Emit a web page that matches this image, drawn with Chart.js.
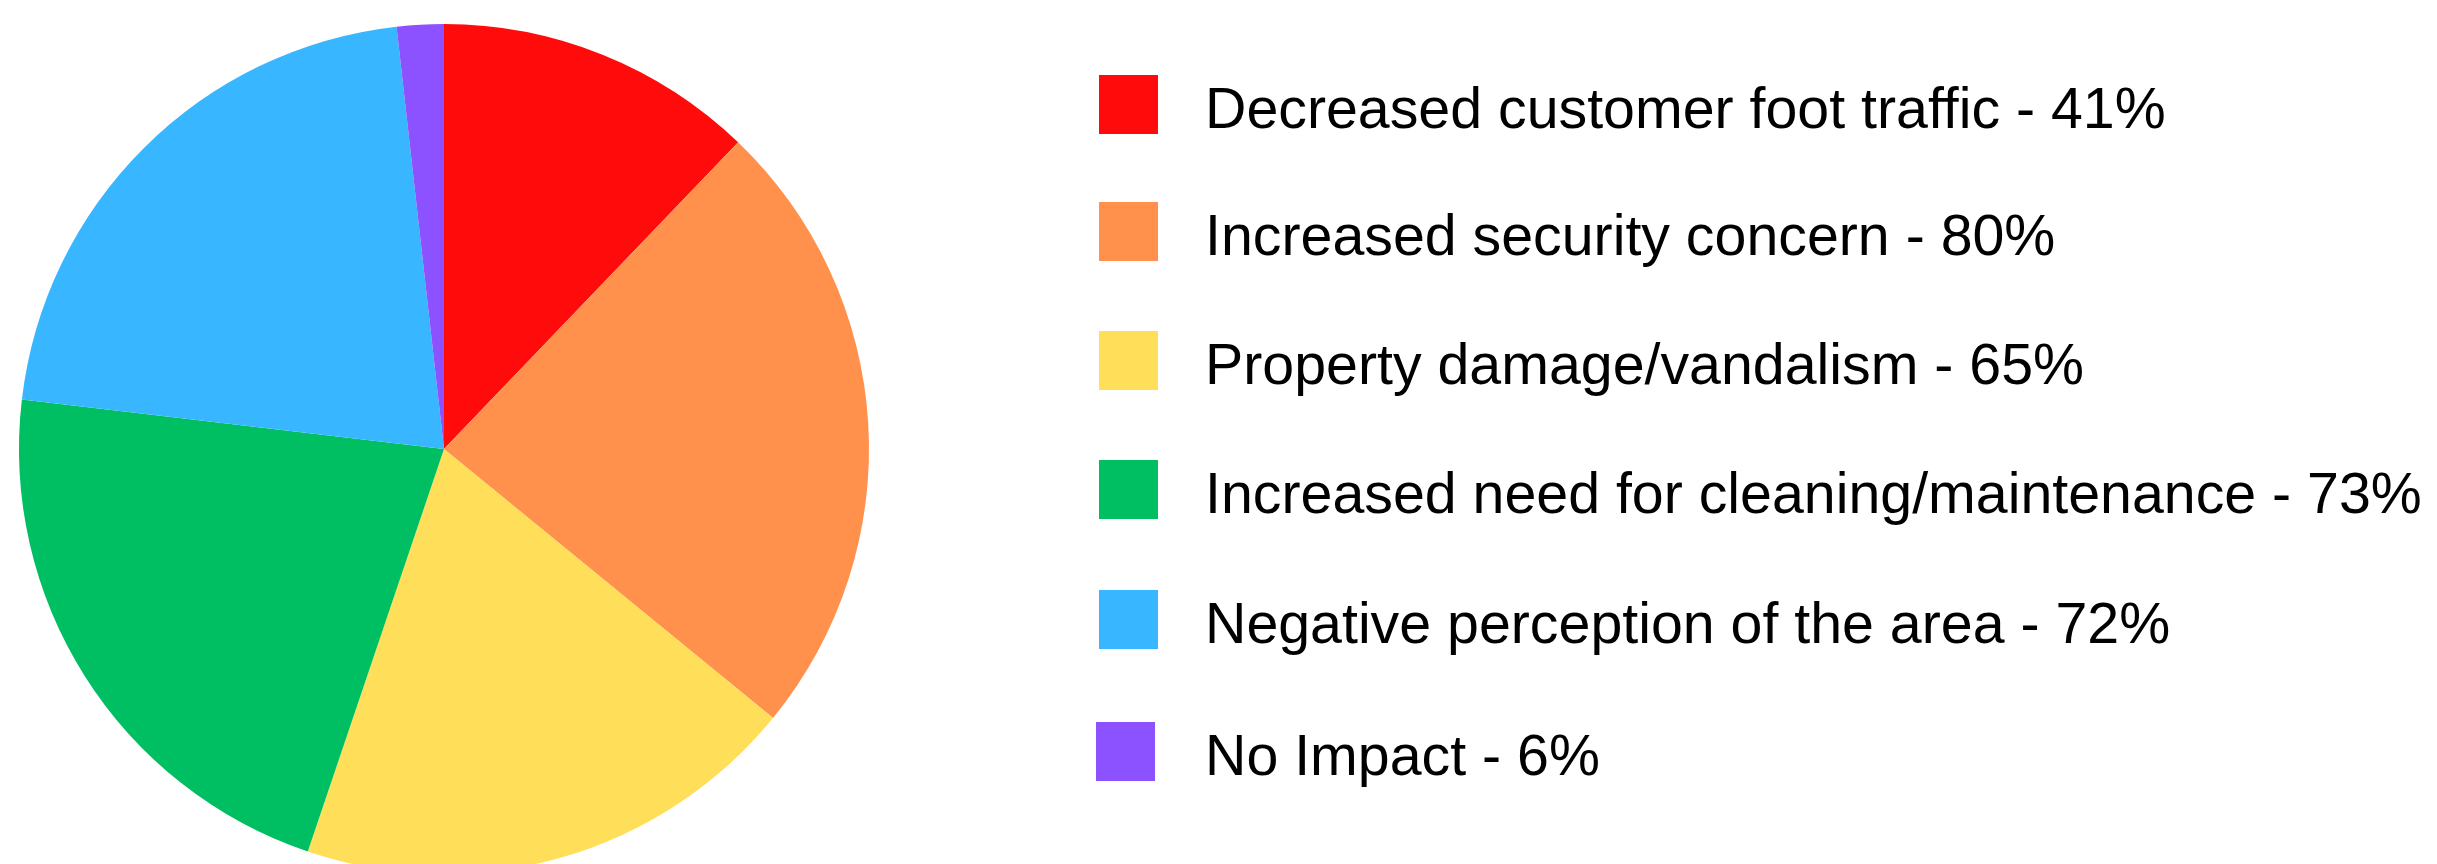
<!DOCTYPE html>
<html>
<head>
<meta charset="utf-8">
<script src="https://cdn.jsdelivr.net/npm/chart.js@4/dist/chart.umd.min.js"></script>
<style>
  html, body { margin: 0; padding: 0; background: #fff; width: 2437px; height: 864px; overflow: hidden; }
  #chart { position: absolute; left: 0; top: 0; }
  #legend { position: absolute; left: 1099px; top: 75px; font-family: "Liberation Sans", Arial, sans-serif; font-size: 57.3px; color: #000; }
  .item { position: absolute; left: 0; white-space: nowrap; height: 59px; }
  .box { position: absolute; left: 0; top: 0; width: 59px; height: 59px; }
  .lbl { position: absolute; left: 106px; top: -7.5px; line-height: 80px; }
</style>
</head>
<body>
<canvas id="chart" width="888" height="898"></canvas>
<div id="legend"></div>
<script>
const categories = [
  "Decreased customer foot traffic",
  "Increased security concern",
  "Property damage/vandalism",
  "Increased need for cleaning/maintenance",
  "Negative perception of the area",
  "No Impact"
];
const values = [41, 80, 65, 73, 72, 6];
const colors = ["#FF0B0B", "#FF914D", "#FFDE59", "#00BF63", "#38B6FF", "#8C52FF"];

const labels = categories.map((c, i) => c + " - " + values[i] + "%");

new Chart(document.getElementById("chart"), {
  type: "pie",
  data: {
    labels: labels,
    datasets: [{ data: values, backgroundColor: colors, borderWidth: 0 }]
  },
  options: {
    responsive: false,
    animation: false,
    devicePixelRatio: 1,
    layout: { padding: { left: 19, right: 19, top: 24, bottom: 24 } },
    plugins: { legend: { display: false }, tooltip: { enabled: false } }
  }
});

const legend = document.getElementById("legend");
const rowTops = [0, 127, 256, 385, 515, 647];
const rowLefts = [0, 0, 0, 0, 0, -3];
labels.forEach((t, i) => {
  const item = document.createElement("div");
  item.className = "item";
  item.style.top = rowTops[i] + "px";
  item.style.left = rowLefts[i] + "px";
  const box = document.createElement("div");
  box.className = "box";
  box.style.background = colors[i];
  const lbl = document.createElement("div");
  lbl.className = "lbl";
  lbl.style.left = (106 - rowLefts[i]) + "px";
  lbl.textContent = t;
  item.appendChild(box);
  item.appendChild(lbl);
  legend.appendChild(item);
});
</script>
</body>
</html>
